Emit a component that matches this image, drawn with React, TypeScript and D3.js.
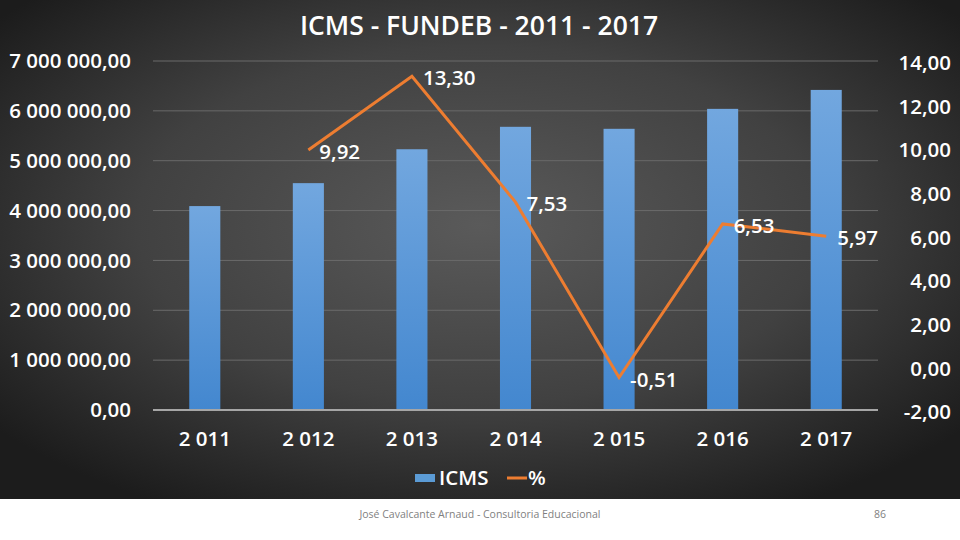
import React from 'react';
import * as d3 from 'd3';

const years = ['2 011', '2 012', '2 013', '2 014', '2 015', '2 016', '2 017'];
const icms = [4090000, 4550000, 5230000, 5680000, 5640000, 6040000, 6420000];
const pct: (number | null)[] = [null, 9.92, 13.3, 7.53, -0.51, 6.53, 5.97];
const leftTicks = [0, 1000000, 2000000, 3000000, 4000000, 5000000, 6000000, 7000000];
const rightTicks = [-2, 0, 2, 4, 6, 8, 10, 12, 14];

const W = 960, H = 540;
const margin = { top: 61, right: 82, bottom: 130, left: 153 };
const font = "'Open Sans', 'Noto Sans', sans-serif";
const fs = 20.5;

// pt-BR style numbers: space thousands, comma decimal, plain hyphen for minus
const fmt = (v: number) => {
  const s = d3.format(',.2f')(v);
  return s.replace(/,/g, ' ').replace('.', ',').replace('\u2212', '-');
};

const App = () => {
  const x = d3.scaleBand().domain(years).range([margin.left, W - margin.right]).paddingInner(0.7).paddingOuter(0.35);
  const xc = (d: string) => (x(d) as number) + x.bandwidth() / 2;
  const yL = d3.scaleLinear().domain([0, 7000000]).range([H - margin.bottom, margin.top]);
  const yR = d3.scaleLinear().domain([-2, 14]).range([H - margin.bottom, margin.top]);

  const pts = years.map((d, i) => ({ d, v: pct[i] })).filter(p => p.v !== null) as { d: string; v: number }[];
  const line = d3.line<{ d: string; v: number }>().x(p => xc(p.d)).y(p => yR(p.v));

  return (
    <div style={{ position: 'fixed', left: 0, top: 0 }}>
      <svg width={W} height={H} style={{ display: 'block', fontFamily: font }}>
        <defs>
          <radialGradient id="bg" cx="50%" cy="45%" r="65%">
            <stop offset="0%" stopColor="#5a5a5a" />
            <stop offset="55%" stopColor="#414141" />
            <stop offset="100%" stopColor="#1c1c1c" />
          </radialGradient>
          <linearGradient id="bar" x1="0" y1="0" x2="0" y2="1">
            <stop offset="0%" stopColor="#72a7df" />
            <stop offset="100%" stopColor="#4387cf" />
          </linearGradient>
        </defs>
        <rect x={0} y={0} width={W} height={H} fill="#fff" />
        <rect x={0} y={0} width={W} height={499} fill="url(#bg)" />

        <text x={479} y={26} dy="0.35em" textAnchor="middle" fill="#fff" fontSize={26.5} fontWeight={600}>
          ICMS - FUNDEB - 2011 - 2017
        </text>

        {leftTicks.slice(1).map(t => (
          <line key={t} x1={margin.left} x2={W - margin.right} y1={yL(t)} y2={yL(t)} stroke="#6a6a6a" strokeWidth={1} />
        ))}

        {years.map((d, i) => (
          <rect key={d} x={x(d)} y={yL(icms[i])} width={x.bandwidth()} height={yL(0) - yL(icms[i])} fill="url(#bar)" />
        ))}

        <line x1={margin.left} x2={W - margin.right} y1={yL(0)} y2={yL(0)} stroke="#a6a6a6" strokeWidth={2} />

        <path d={line(pts) as string} fill="none" stroke="#ed7d31" strokeWidth={3} strokeLinejoin="miter" />
        {pts.map(p => (
          <text key={p.d} x={xc(p.d) + 11} y={yR(p.v) + 2} dy="0.35em" fill="#fff" fontSize={fs} fontWeight={600}>
            {fmt(p.v)}
          </text>
        ))}

        {leftTicks.map(t => (
          <text key={t} x={131} y={yL(t)} dy="0.35em" textAnchor="end" fill="#fff" fontSize={fs} fontWeight={600}>
            {fmt(t)}
          </text>
        ))}
        {rightTicks.map(t => (
          <text key={t} x={951} y={yR(t) + 2} dy="0.35em" textAnchor="end" fill="#fff" fontSize={fs} fontWeight={600}>
            {fmt(t)}
          </text>
        ))}
        {years.map(d => (
          <text key={d} x={xc(d)} y={439} dy="0.35em" textAnchor="middle" fill="#fff" fontSize={fs} fontWeight={600}>
            {d}
          </text>
        ))}

        <g transform="translate(415,478)">
          <rect x={0} y={-4} width={20} height={8} fill="#5b9bd5" />
          <text x={24} y={0} dy="0.35em" fill="#fff" fontSize={fs} fontWeight={600}>ICMS</text>
          <line x1={507 - 415} x2={527 - 415} y1={0} y2={0} stroke="#ed7d31" strokeWidth={3} />
          <text x={528 - 415} y={0} dy="0.35em" fill="#fff" fontSize={fs} fontWeight={600}>%</text>
        </g>

        <text x={480} y={514} dy="0.35em" textAnchor="middle" fill="#7f7f7f" fontSize={10.5}>
          José Cavalcante Arnaud - Consultoria Educacional
        </text>
        <text x={880} y={514} dy="0.35em" textAnchor="middle" fill="#7f7f7f" fontSize={10.5}>86</text>
      </svg>
    </div>
  );
};

export default App;
